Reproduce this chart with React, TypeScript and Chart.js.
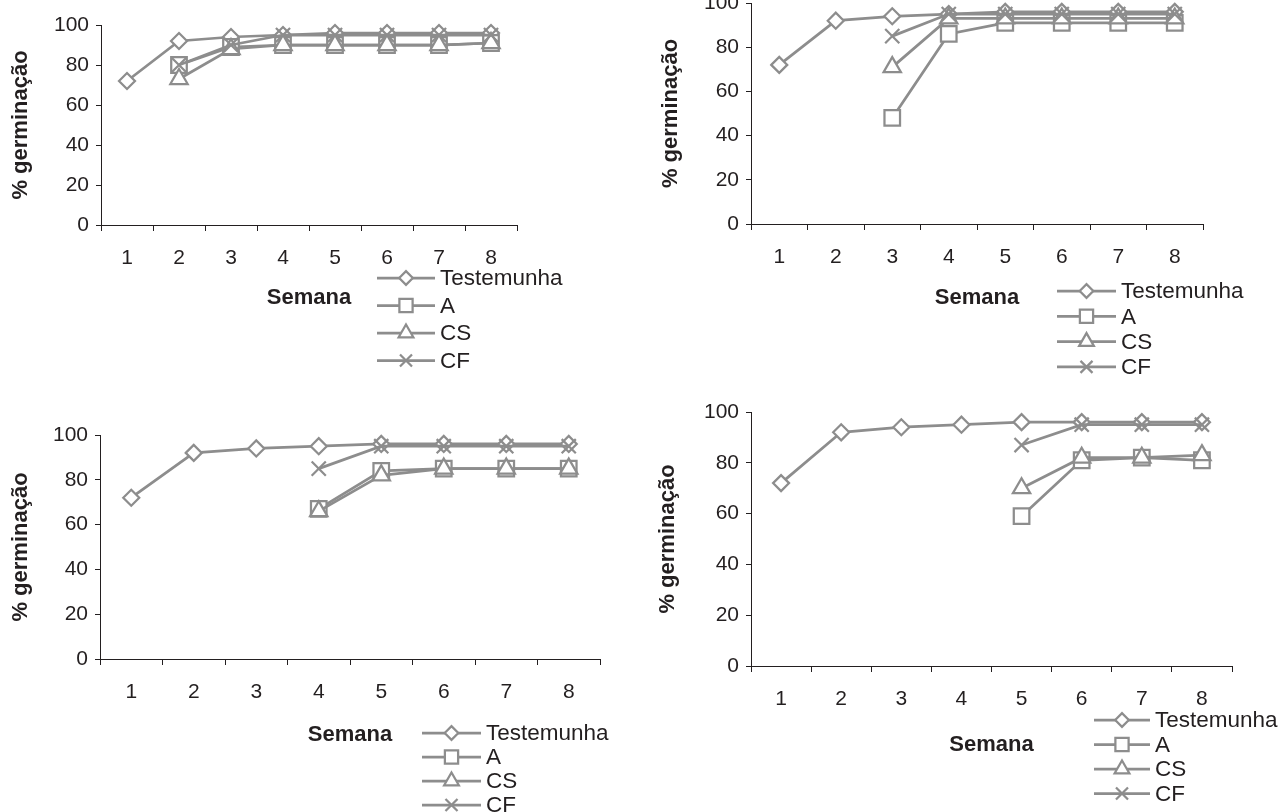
import React, { useEffect, useRef } from 'react';
import { Chart, registerables } from 'chart.js';
import { drawPoint } from 'chart.js/helpers';

Chart.register(...registerables);

// ---------- data ----------
const weeks = ['1', '2', '3', '4', '5', '6', '7', '8'];
const seriesNames = ['Testemunha', 'A', 'CS', 'CF'];
const yTicks = [0, 20, 40, 60, 80, 100];
const xTitle = 'Semana';
const yTitle = '% germinação';

// panel 1 (top left)
const p1Testemunha = [72, 92, 94, 95, 96, 96, 96, 96];
const p1A = [null, 80, 89, 90, 90, 90, 90, 91];
const p1CS = [null, 73, 88, 90, 90, 90, 90, 91];
const p1CF = [null, 80, 90, 95, 95, 95, 95, 95];

// panel 2 (top right)
const p2Testemunha = [72, 92, 94, 95, 96, 96, 96, 96];
const p2A = [null, null, 48, 86, 91, 91, 91, 91];
const p2CS = [null, null, 71, 93, 93, 93, 93, 93];
const p2CF = [null, null, 85, 95, 95, 95, 95, 95];

// panel 3 (bottom left)
const p3Testemunha = [72, 92, 94, 95, 96, 96, 96, 96];
const p3A = [null, null, null, 67, 84, 85, 85, 85];
const p3CS = [null, null, null, 66, 82, 85, 85, 85];
const p3CF = [null, null, null, 85, 95, 95, 95, 95];

// panel 4 (bottom right)
const p4Testemunha = [72, 92, 94, 95, 96, 96, 96, 96];
const p4A = [null, null, null, null, 59, 81, 82, 81];
const p4CS = [null, null, null, null, 70, 82, 82, 83];
const p4CF = [null, null, null, null, 87, 95, 95, 95];

// ---------- styles / layout ----------
const LINE = '#8d8d8d';
const INK = '#231f20';
const FONT = '"Liberation Sans", Arial, Helvetica, sans-serif';
const W = 640;

const markers = [
  { pointStyle: 'rectRot', radius: 8 },
  { pointStyle: 'rect', radius: 11 },
  { pointStyle: 'triangle', radius: 10 },
  { pointStyle: 'crossRot', radius: 10 },
];

// all positions below are page coordinates
type Panel = {
  left: number;
  top: number;
  height: number;
  area: { l: number; r: number; t: number; b: number };
  xTickPad: number;
  xTitleY: number;
  yTitleX: number;
  legend: { x: number; y: number; gap: number; len: number };
  series: (number | null)[][];
};

const panels: Panel[] = [
  {
    left: 0, top: 0, height: 406,
    area: { l: 101, r: 517, t: 25, b: 225 },
    xTickPad: 15, xTitleY: 298, yTitleX: 21,
    legend: { x: 377, y: 278, gap: 27.5, len: 58 },
    series: [p1Testemunha, p1A, p1CS, p1CF],
  },
  {
    left: 640, top: 0, height: 406,
    area: { l: 751, r: 1203, t: 3, b: 224 },
    xTickPad: 15, xTitleY: 298, yTitleX: 671,
    legend: { x: 1057, y: 291, gap: 25.3, len: 59 },
    series: [p2Testemunha, p2A, p2CS, p2CF],
  },
  {
    left: 0, top: 390, height: 422,
    area: { l: 100, r: 600, t: 435, b: 659 },
    xTickPad: 15, xTitleY: 735, yTitleX: 21,
    legend: { x: 422, y: 733, gap: 24, len: 59 },
    series: [p3Testemunha, p3A, p3CS, p3CF],
  },
  {
    left: 640, top: 390, height: 422,
    area: { l: 751, r: 1232, t: 412, b: 666 },
    xTickPad: 15, xTitleY: 745, yTitleX: 668,
    legend: { x: 1094, y: 720, gap: 24.5, len: 56 },
    series: [p4Testemunha, p4A, p4CS, p4CF],
  },
];

const keyPlugin = (lg: { x: number; y: number; gap: number; len: number }) => ({
  id: 'seriesKey',
  afterDraw(chart: any) {
    const ctx = chart.ctx;
    ctx.save();
    chart.data.datasets.forEach((ds: any, i: number) => {
      const y = lg.y + i * lg.gap;
      ctx.strokeStyle = LINE;
      ctx.lineWidth = 2.75;
      ctx.beginPath();
      ctx.moveTo(lg.x, y);
      ctx.lineTo(lg.x + lg.len, y);
      ctx.stroke();
      ctx.fillStyle = '#ffffff';
      ctx.strokeStyle = LINE;
      ctx.lineWidth = 2.25;
      drawPoint(
        ctx,
        { pointStyle: ds.pointStyle, radius: ds.pointRadius * 0.85, rotation: 0, borderWidth: 2.25 },
        lg.x + lg.len / 2,
        y
      );
      ctx.fillStyle = INK;
      ctx.font = `22.5px ${FONT}`;
      ctx.textAlign = 'left';
      ctx.textBaseline = 'middle';
      ctx.fillText(ds.label, lg.x + lg.len + 5, y + 1);
    });
    ctx.restore();
  },
});

function PanelChart({ p }: { p: Panel }) {
  const ref = useRef<HTMLCanvasElement | null>(null);
  useEffect(() => {
    if (!ref.current) return;
    const H = p.height;
    const a = {
      l: p.area.l - p.left,
      r: p.area.r - p.left,
      t: p.area.t - p.top,
      b: p.area.b - p.top,
    };
    const lg = { x: p.legend.x - p.left, y: p.legend.y - p.top, gap: p.legend.gap, len: p.legend.len };
    const titleHalf = (22 * 1.2) / 2;
    const chart = new Chart(ref.current, {
      type: 'line',
      data: {
        labels: weeks,
        datasets: seriesNames.map((name, i) => ({
          label: name,
          data: p.series[i],
          borderColor: LINE,
          backgroundColor: '#ffffff',
          borderWidth: 2.75,
          pointStyle: markers[i].pointStyle,
          pointRadius: markers[i].radius,
          pointBorderWidth: 2.25,
          pointBackgroundColor: '#ffffff',
          pointBorderColor: LINE,
          fill: false,
          tension: 0,
          spanGaps: false,
          clip: false,
          order: 3 - i,
        })) as any,
      },
      options: {
        responsive: false,
        maintainAspectRatio: false,
        animation: false,
        events: [],
        layout: { autoPadding: false, padding: { left: 0, top: a.t, right: W - a.r, bottom: 0 } },
        plugins: { legend: { display: false }, tooltip: { enabled: false } },
        scales: {
          x: {
            type: 'category',
            offset: true,
            grid: { offset: true, drawOnChartArea: false, drawTicks: true, tickLength: 6, color: INK, lineWidth: 1 },
            border: { display: true, color: INK, width: 1 },
            ticks: { color: INK, font: { family: FONT, size: 21 }, padding: p.xTickPad, maxRotation: 0, autoSkip: false },
            title: {
              display: true, text: xTitle, color: INK,
              font: { family: FONT, size: 22, weight: 'bold' },
              padding: { top: 0, bottom: H - (p.xTitleY - p.top) - titleHalf },
            },
            afterFit: (s: any) => { s.height = H - a.b; s.paddingLeft = 0; s.paddingRight = 0; },
          },
          y: {
            type: 'linear',
            min: 0, max: 100,
            afterBuildTicks: (s: any) => { s.ticks = yTicks.map((v) => ({ value: v })); },
            grid: { drawOnChartArea: false, drawTicks: true, tickLength: 5, color: INK, lineWidth: 1 },
            border: { display: true, color: INK, width: 1 },
            ticks: { color: INK, font: { family: FONT, size: 21 }, padding: 7 },
            title: {
              display: true, text: yTitle, color: INK,
              font: { family: FONT, size: 22, weight: 'bold' },
              padding: { top: (p.yTitleX - p.left) - titleHalf, bottom: 0 },
            },
            afterFit: (s: any) => { s.width = a.l; s.paddingTop = 0; s.paddingBottom = 0; },
          },
        },
      } as any,
      plugins: [keyPlugin(lg)],
    });
    return () => chart.destroy();
  }, [p]);
  return (
    <div style={{ position: 'absolute', left: p.left, top: p.top, width: W, height: p.height }}>
      <canvas ref={ref} width={W} height={p.height} style={{ width: W, height: p.height, display: 'block' }} />
    </div>
  );
}

export default function App() {
  return (
    <div style={{ position: 'absolute', left: 0, top: 0, width: 1280, height: 812, background: '#ffffff', overflow: 'hidden' }}>
      {panels.map((p, i) => (
        <PanelChart key={i} p={p} />
      ))}
    </div>
  );
}
